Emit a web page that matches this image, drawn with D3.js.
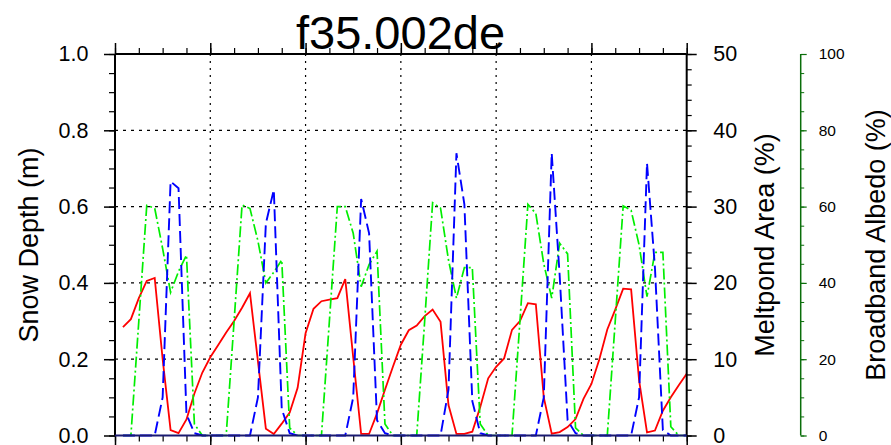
<!DOCTYPE html>
<html><head><meta charset="utf-8">
<script src="https://cdn.jsdelivr.net/npm/d3@7"></script>
<style>
body{margin:0;background:#fff;}
text{font-family:"Liberation Sans",Arial,Helvetica,sans-serif;}
</style>
</head><body>
<svg id="chart" width="891" height="445"></svg>
<script>
// ---- data (monthly, 6 years) ----
const months = d3.range(1, 73);
const snowDepth = [
 0.284,0.305,0.36,0.405,0.413,0.2,0.014,0.006,0.042,0.11,0.165,0.205,
 0.237,0.27,0.30,0.335,0.373,0.195,0.018,0.004,0.031,0.06,0.125,0.268,
 0.332,0.352,0.356,0.36,0.41,0.205,0.004,0.004,0.058,0.12,0.18,0.238,
 0.276,0.288,0.313,0.33,0.298,0.08,0.004,0.004,0.01,0.075,0.15,0.18,
 0.202,0.277,0.30,0.347,0.344,0.1,0.005,0.009,0.022,0.043,0.096,0.135,
 0.2,0.278,0.33,0.385,0.383,0.145,0.008,0.013,0.065,0.1,0.132,0.162];
const meltpondArea = [
 0,0,0,0,0,5,33.3,32.4,2.8,0.3,0,0,
 0,0,0,0,0,5,27.8,32.2,3.5,0.3,0,0,
 0,0,0,0,0,5,31,26.5,2,0.3,0,0,
 0,0,0,0,0,6,37,30.3,4.5,0.3,0,0,
 0,0,0,0,0,5,37,21,2,0.3,0,0,
 0,0,0,0,0,5,35.7,22,0.7,0,0,0];
const albedo = [
 0,0,30,60.3,59.6,49,37.5,43,47.3,3,0,0,
 0,0,30,60.4,59.5,51,40,42.8,46,2,0,0,
 0,0,30,60,60,53,39,44.8,48.3,3,0,0,
 0,0,30,61,59.6,46,36,44,44,3,0,0,
 0,0,30,60.6,58.2,45,36,50.4,47.6,2,0,0,
 0,0,30,60.2,59,50,36.4,48,48,2.3,0,0];
const xMajorTicks = [0,12,24,36,48,60,72];
const xMinorTicks = d3.range(0,73,3);
const depthTicks = [0,0.2,0.4,0.6,0.8,1.0];
const depthMinor = d3.range(0,1.0001,0.05);
const pondTicks = [0,10,20,30,40,50];
const pondMinor = d3.range(0,51,2);
const albedoTicks = [0,20,40,60,80,100];
const albedoMinor = d3.range(0,101,5);
const title = "f35.002de";

// ---- layout ----
const L = 115, R = 686.7, T = 54, B = 435.5;
const svg = d3.select("#chart");
const x = d3.scaleLinear().domain([0,72]).range([L,R]);
const yD = d3.scaleLinear().domain([0,1]).range([B,T]);
const yP = d3.scaleLinear().domain([0,50]).range([B,T]);
const yA = d3.scaleLinear().domain([0,100]).range([B,T]);

// grid
const grid = svg.append("g");
grid.selectAll("line.h").data(depthTicks.filter(d=>d>0&&d<1)).enter().append("line")
  .attr("x1",L).attr("x2",R).attr("y1",d=>yD(d)).attr("y2",d=>yD(d))
  .attr("stroke","#000").attr("stroke-width",1.2).attr("stroke-dasharray","3,5");
grid.selectAll("line.v").data(xMajorTicks.filter(d=>d>0&&d<72)).enter().append("line")
  .attr("y1",T).attr("y2",B).attr("x1",d=>x(d)).attr("x2",d=>x(d))
  .attr("stroke","#000").attr("stroke-width",1.2).attr("stroke-dasharray","2,5");

// lines
const lineOf = (ys, sc) => d3.line().x((d,i)=>x(months[i])).y(d=>sc(d))(ys);
svg.append("path").attr("d",lineOf(snowDepth,yD)).attr("fill","none")
  .attr("stroke","#ff0000").attr("stroke-width",1.8);
svg.append("path").attr("d",lineOf(albedo,yA)).attr("fill","none")
  .attr("stroke","#00ee00").attr("stroke-width",1.7).attr("stroke-dasharray","11,3,2,3");
svg.append("path").attr("d",lineOf(meltpondArea,yP)).attr("fill","none")
  .attr("stroke","#0000ff").attr("stroke-width",1.9).attr("stroke-dasharray","12,5");

function styleAxis(g, color, w){
  g.select(".domain").remove();
  g.selectAll(".tick line").attr("stroke",color).attr("stroke-width",w||1.2);
  g.selectAll(".tick text").attr("fill","#000");
}
// left axis
const gL = svg.append("g").attr("transform",`translate(${L},0)`);
gL.call(d3.axisLeft(yD).tickValues(depthMinor).tickSize(6).tickFormat(""));
styleAxis(gL,"#000");
const gL2 = svg.append("g").attr("transform",`translate(${L},0)`);
gL2.call(d3.axisLeft(yD).tickValues(depthTicks).tickSize(11).tickPadding(15.5).tickFormat(d3.format(".1f")));
styleAxis(gL2,"#000",1.5);
gL2.selectAll("text").attr("font-size",21.5);

// right axis
const gR = svg.append("g").attr("transform",`translate(${R},0)`);
gR.call(d3.axisRight(yP).tickValues(pondMinor).tickSize(5).tickFormat(""));
styleAxis(gR,"#000");
const gR2 = svg.append("g").attr("transform",`translate(${R},0)`);
gR2.call(d3.axisRight(yP).tickValues(pondTicks).tickSize(10).tickPadding(16.5).tickFormat(d3.format("d")));
styleAxis(gR2,"#000",1.5);
gR2.selectAll("text").attr("font-size",21.5);

// top & bottom
const gT = svg.append("g").attr("transform",`translate(0,${T})`);
gT.call(d3.axisTop(x).tickValues(xMinorTicks).tickSize(6).tickFormat(""));
styleAxis(gT,"#000");
const gT2 = svg.append("g").attr("transform",`translate(0,${T})`);
gT2.call(d3.axisTop(x).tickValues(xMajorTicks).tickSize(11).tickFormat(""));
styleAxis(gT2,"#000",1.5);
const gB = svg.append("g").attr("transform",`translate(0,${B})`);
gB.call(d3.axisBottom(x).tickValues(xMinorTicks).tickSize(6).tickFormat(""));
styleAxis(gB,"#000");
const gB2 = svg.append("g").attr("transform",`translate(0,${B})`);
gB2.call(d3.axisBottom(x).tickValues(xMajorTicks).tickSize(11).tickFormat(""));
styleAxis(gB2,"#000",1.5);

// frame
svg.append("line").attr("x1",L).attr("x2",L).attr("y1",T).attr("y2",B).attr("stroke","#000").attr("stroke-width",2);
svg.append("line").attr("x1",R).attr("x2",R).attr("y1",T).attr("y2",B).attr("stroke","#000").attr("stroke-width",2);
svg.append("line").attr("x1",L).attr("x2",R).attr("y1",T).attr("y2",T).attr("stroke","#000").attr("stroke-width",2);
svg.append("line").attr("x1",L).attr("x2",R).attr("y1",B).attr("y2",B).attr("stroke","#1a1a70").attr("stroke-width",2.2);

// albedo axis
const AX = 800.7;
const gA = svg.append("g").attr("transform",`translate(${AX},0)`);
gA.call(d3.axisRight(yA).tickValues(albedoMinor).tickSize(3.5).tickFormat(""));
styleAxis(gA,"#0a6e0a",1);
const gA2 = svg.append("g").attr("transform",`translate(${AX},0)`);
gA2.call(d3.axisRight(yA).tickValues(albedoTicks).tickSize(6).tickPadding(12).tickFormat(d3.format("d")));
styleAxis(gA2,"#0a6e0a",1.2);
gA2.selectAll("text").attr("font-size",15.5);
svg.append("line").attr("x1",AX).attr("x2",AX).attr("y1",T).attr("y2",B).attr("stroke","#0a6e0a").attr("stroke-width",1.5);

// labels
function vlabel(cx, txt){
  svg.append("text").attr("transform",`translate(${cx},245) rotate(-90)`)
    .attr("text-anchor","middle").attr("dominant-baseline","central")
    .attr("font-size",27).attr("fill","#000").text(txt);
}
vlabel(29,"Snow Depth (m)");
vlabel(765,"Meltpond Area (%)");
vlabel(876,"Broadband Albedo (%)");
svg.append("text").attr("x",400.5).attr("y",49).attr("text-anchor","middle")
  .attr("font-size",47).attr("fill","#000").text(title);
</script>
</body></html>
